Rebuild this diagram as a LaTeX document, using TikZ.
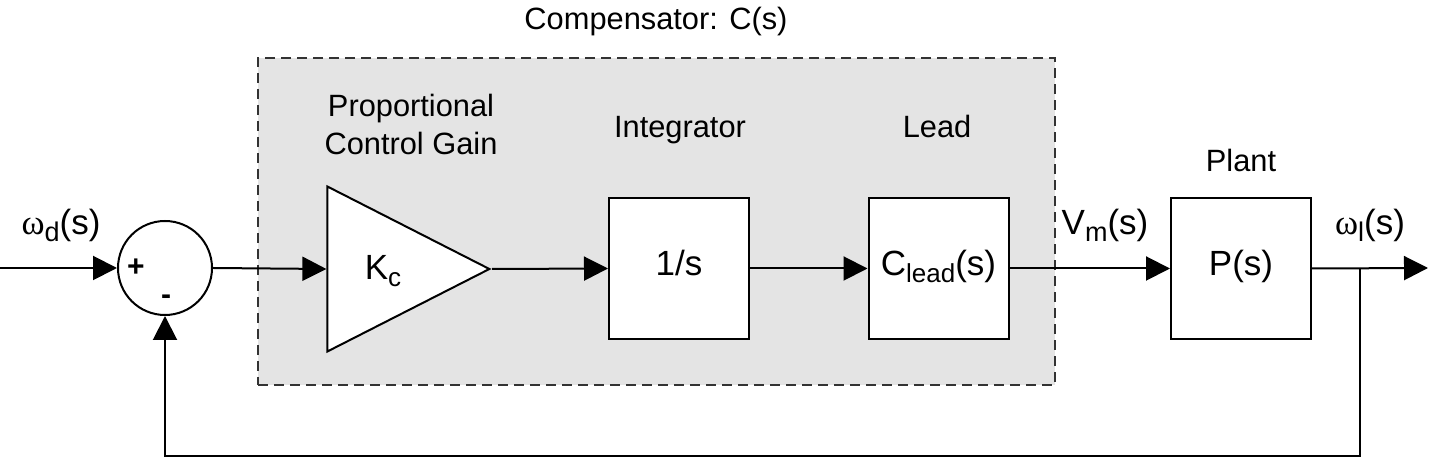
\documentclass[tikz,border=0pt]{standalone}
\usepackage{fontspec}
\setmainfont{Liberation Sans}
\newfontfamily\omegafont{Liberation Serif}
\usetikzlibrary{arrows.meta,shapes.geometric}
\definecolor{compbg}{HTML}{E4E4E4}
\definecolor{dashgray}{HTML}{333333}
\newcommand{\lowsub}[1]{\raisebox{-0.18em}{\fontsize{13.5}{14}\selectfont #1}}
\newcommand{\blocksub}[1]{\raisebox{-0.2em}{\fontsize{13}{14}\selectfont #1}}
\begin{document}
\begin{tikzpicture}[x=0.5pt,y=-0.5pt,line width=1pt,
  wire/.style={-{Triangle[length=12pt,width=12pt]}},
  blockbox/.style={draw,fill=white,minimum width=70pt,minimum height=70.5pt,inner sep=0pt,
    font=\fontsize{17.5}{20}\selectfont,text height=0.9em,text depth=0.2em},
  lbl/.style={font=\fontsize{15.4}{18}\selectfont,anchor=base,inner sep=0pt},
  sigl/.style={font=\fontsize{17.5}{19}\selectfont,anchor=base,inner sep=0pt}]
\useasboundingbox (0,0) rectangle (1430,458);
% compensator region
\node[draw=dashgray,fill=compbg,dash pattern=on 5pt off 3pt,line width=0.8pt,
      minimum width=398.5pt,minimum height=163.5pt,inner sep=0pt] (comp) at (656.5,221.5) {};
\node[lbl] (complbl) at (656,30) {Compensator: C(s)};
% blocks
\node[circle,draw,fill=white,minimum size=47pt,inner sep=0pt] (sum) at (165,268) {};
\node[font=\fontsize{15}{16}\selectfont\bfseries,inner sep=0pt] (plus) at (136,268) {+};
\node[font=\fontsize{15}{16}\selectfont\bfseries,inner sep=0pt] (minus) at (166,300) {-};
\node[isosceles triangle,isosceles triangle stretches,draw,fill=white,
      minimum width=82.5pt,minimum height=81pt,inner sep=0pt,anchor=apex] (tri) at (492,269) {};
\node[font=\fontsize{17.5}{20}\selectfont,anchor=base,inner sep=0pt] (kc) at (383,280) {K\blocksub{c}};
\node[blockbox] (int) at (679,268.5) {1/s};
\node[blockbox] (lead) at (938.5,268.5) {C\blocksub{lead}(s)};
\node[blockbox] (plant) at (1241,268.5) {P(s)};
% labels
\node[lbl] (propA) at (411,117) {Proportional};
\node[lbl] (propB) at (411,155) {Control Gain};
\node[lbl] (intl) at (680,138) {Integrator};
\node[lbl] (leadl) at (937,138) {Lead};
\node[lbl] (plantl) at (1241,172) {Plant};
\node[sigl] (wd) at (61,235) {{\omegafont ω}\lowsub{d}(s)};
\node[sigl] (vm) at (1105,235) {V\lowsub{m}(s)};
\node[sigl] (wl) at (1370,235) {{\omegafont ω}\lowsub{l}(s)};
% connectors
\coordinate (in) at (0,268);
\coordinate (out) at (1428,268);
\coordinate (branch) at (1360,268);
\coordinate (bot) at (165,456);
\draw[wire] (in) -- (sum.west);
\draw[wire] (sum.east) -- (tri.west);
\draw[wire] (tri.apex) -- (int.west);
\draw[wire] (int.east) -- (lead.west);
\draw[wire] (lead.east) -- (plant.west);
\draw[wire] (plant.east) -- (out);
\draw[wire] (branch) |- (bot) -- (sum.south);
\end{tikzpicture}
\end{document}
